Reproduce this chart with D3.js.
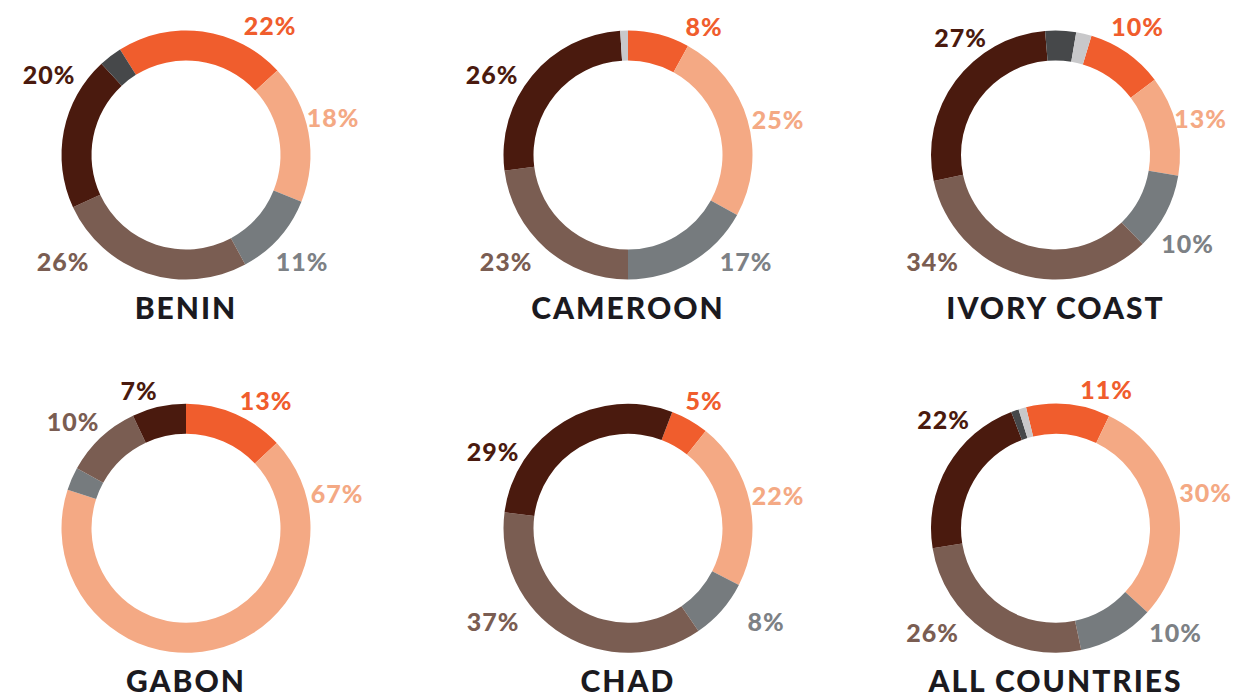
<!DOCTYPE html>
<html>
<head>
<meta charset="utf-8">
<script src="https://cdn.jsdelivr.net/npm/d3@7"></script>
<style>
    body { margin: 0; background: #ffffff; }
    svg { display: block; }
    .pct { font-family: Lato, "Open Sans", sans-serif; font-weight: 900; font-size: 25px; letter-spacing: 1px; }
    .title { font-family: Lato, "Open Sans", sans-serif; font-weight: 900; font-size: 30px; letter-spacing: 2px; fill: #1b1a1f; }
</style>
</head>
<body>
<div id="donuts"></div>
<script>
// chart data
var countries = ["BENIN", "CAMEROON", "IVORY COAST", "GABON", "CHAD", "ALL COUNTRIES"];
var categories = ["A", "B", "C", "D", "E", "F", "G"];

var benin = [22, 18, 11, 26, 20, 3, 0];
var cameroon = [8, 25, 17, 23, 26, 0, 1];
var ivoryCoast = [10, 13, 10, 34, 27, 4, 2];
var gabon = [13, 67, 3, 10, 7, 0, 0];
var chad = [5, 22, 8, 37, 29, 0, 0];
var allCountries = [11, 30, 10, 26, 22, 1, 1];

var seriesValues = [benin, cameroon, ivoryCoast, gabon, chad, allCountries];

// where the first slice starts (degrees, clockwise from top)
var startAngles = [-32, 0, 16.8, 0, 20.8, -13.7];

var sliceColors = ["#f05d2d", "#f4a984", "#767b7e", "#7a5d52", "#4a1a0e", "#46484a", "#c8c8ca"];
var labelColors = ["#f05d2d", "#f4a984", "#7d8185", "#7a5d52", "#4a1a0e", "#46484a", "#c8c8ca"];

// label spots (dx, dy from donut centre) - hand placed in the original
var labelSpots = [
    [[84, -129], [147, -37], [116, 107], [-123, 107], [-137, -80]],
    [[76, -128], [150, -35], [118, 107], [-122, 107], [-136, -80]],
    [[82, -128], [145, -36], [132, 89], [-123, 107], [-95, -117]],
    [[80, -127], [151, -34], null, [-113, -106], [-47, -137]],
    [[76, -127], [150, -32], [138, 94], [-135, 94], [-135, -76]],
    [[51, -138], [150, -35], [120, 105], [-123, 105], [-112, -108]]
];

var width = 1237;
var height = 699;
var outerR = 124.5;
var innerR = 94.5;
var colX = [186, 628, 1055.5];
var rowY = [155, 528.3];

var svg = d3.select('#donuts')
    .append('svg')
    .attr('width', width)
    .attr('height', height);

svg.append('rect')
    .attr('width', width)
    .attr('height', height)
    .attr('fill', '#ffffff');

var color = d3.scaleOrdinal().domain(categories).range(sliceColors);
var labelColor = d3.scaleOrdinal().domain(categories).range(labelColors);

var arc = d3.arc()
    .innerRadius(innerR)
    .outerRadius(outerR);

countries.forEach(function(name, i) {
    var values = seriesValues[i];
    var rows = categories.map(function(c, j) {
        return {cat: c, value: values[j], idx: j};
    });

    var start = startAngles[i] * Math.PI / 180;
    var pie = d3.pie()
        .sort(null)
        .value(function(d) { return d.value; })
        .startAngle(start)
        .endAngle(start + 2 * Math.PI);

    var g = svg.append('g')
        .attr('transform', 'translate(' + colX[i % 3] + ',' + rowY[Math.floor(i / 3)] + ')');

    g.selectAll('path')
        .data(pie(rows).filter(function(d) { return d.data.value > 0; }))
        .enter()
        .append('path')
        .attr('d', arc)
        .attr('fill', function(d) { return color(d.data.cat); });

    // only the bigger slices carry a label
    var labelled = rows.filter(function(d) {
        return d.value >= 5 && labelSpots[i][d.idx];
    });

    g.selectAll('text.pct')
        .data(labelled)
        .enter()
        .append('text')
        .attr('class', 'pct')
        .attr('x', function(d) { return labelSpots[i][d.idx][0]; })
        .attr('y', function(d) { return labelSpots[i][d.idx][1]; })
        .attr('dy', '0.36em')
        .attr('text-anchor', 'middle')
        .attr('fill', function(d) { return labelColor(d.cat); })
        .text(function(d) { return d.value + '%'; });

    g.append('text')
        .attr('class', 'title')
        .attr('x', 0)
        .attr('y', 164)
        .attr('text-anchor', 'middle')
        .text(name);
});
</script>
</body>
</html>
